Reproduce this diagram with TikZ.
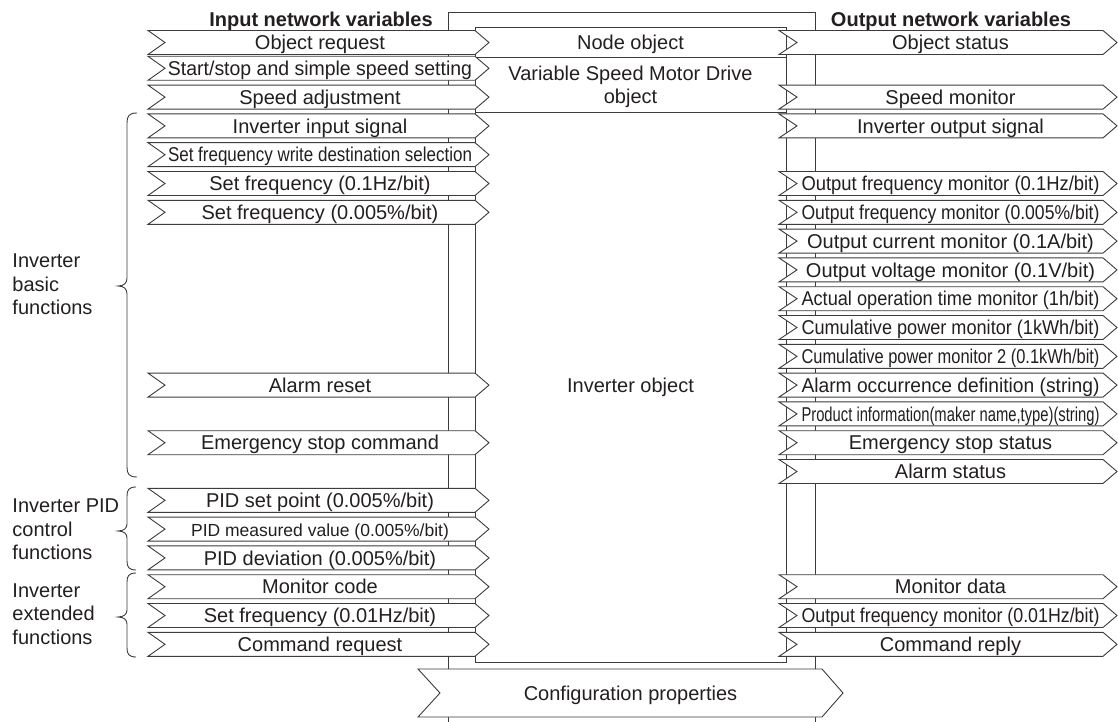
\documentclass[tikz,border=0pt]{standalone}
\usepackage{fontspec}
\setmainfont{Liberation Sans}
\usepackage{graphicx}
\definecolor{ink}{RGB}{35,31,32}
\definecolor{edge}{RGB}{60,60,60}
\newsavebox\lblbox
\newcommand\fitto[2]{\sbox\lblbox{#2}\ifdim\wd\lblbox>#1\relax\resizebox{#1}{\height}{\usebox\lblbox}\else\usebox\lblbox\fi}
\newcommand\inarr[3]{%
  \draw[arrshape] (148,#2) -- (475,#2) -- (489,#2+12) -- (475,#2+24) -- (148,#2+24) -- (165,#2+12) -- cycle;
  \node[lbl] (#1) at (320,#2+12) {\fitto{304pt}{#3}};}
\newcommand\outarr[3]{%
  \draw[arrshape] (779,#2) -- (1103,#2) -- (1117,#2+12) -- (1103,#2+24) -- (779,#2+24) -- (797,#2+12) -- cycle;
  \node[lbl] (#1) at (950.5,#2+12) {\fitto{298pt}{#3}};}
\begin{document}
\begin{tikzpicture}[x=1pt,y=-1pt,
  line width=0.9pt,
  frame/.style={draw=edge},
  arrshape/.style={draw=edge,fill=white,line join=miter},
  lbl/.style={inner sep=0pt,text height=14.3pt,text depth=0pt,text=ink,font=\fontsize{20}{24}\selectfont},
  head/.style={inner sep=0pt,text height=14.3pt,text depth=0pt,text=ink,font=\bfseries\fontsize{20}{24}\selectfont},
  grp/.style={inner sep=0pt,anchor=west,align=left,text=ink,font=\fontsize{20}{23.5}\selectfont},
  bracestyle/.style={draw=edge,line width=0.9pt}]
\useasboundingbox (0,0) rectangle (1118,722);
% outer object frame (open at bottom)
\draw[frame] (448,722) -- (448,12) -- (815,12) -- (815,722);
% inner object frame
\draw[frame] (475,27) rectangle (786,662);
\draw[frame] (475,57) -- (786,57);
\draw[frame] (475,112) -- (786,112);
% headings
\node[head] (inhead) at (321,19) {Input network variables};
\node[head] (outhead) at (951,19) {Output network variables};
% object labels
\node[lbl] (nodeobj) at (630.5,42) {Node object};
\node[lbl] (vsmd) at (630.5,73.3) {Variable Speed Motor Drive};
\node[lbl] (vsmdb) at (630.5,96) {object};
\node[lbl] (invobj) at (630.5,385) {Inverter object};
% input network variables
\inarr{i0}{30.5}{Object request}
\inarr{i1}{56.3}{Start/stop and simple speed setting}
\inarr{i2}{85.1}{Speed adjustment}
\inarr{i3}{113.9}{Inverter input signal}
\inarr{i4}{142.7}{Set frequency write destination selection}
\inarr{i5}{171.5}{Set frequency (0.1Hz/bit)}
\inarr{i6}{200.3}{Set frequency (0.005\%/bit)}
\inarr{i12}{373.1}{Alarm reset}
\inarr{i14}{430.7}{Emergency stop command}
\inarr{i16}{488.3}{PID set point (0.005\%/bit)}
\inarr{i17}{517.1}{\fontsize{17.5}{20}\selectfont PID measured value (0.005\%/bit)}
\inarr{i18}{545.9}{PID deviation (0.005\%/bit)}
\inarr{i19}{574.7}{Monitor code}
\inarr{i20}{603.5}{Set frequency (0.01Hz/bit)}
\inarr{i21}{632.3}{Command request}
% output network variables
\outarr{o0}{30.5}{Object status}
\outarr{o2}{85.1}{Speed monitor}
\outarr{o3}{113.9}{Inverter output signal}
\outarr{o5}{171.5}{Output frequency monitor (0.1Hz/bit)}
\outarr{o6}{200.3}{Output frequency monitor (0.005\%/bit)}
\outarr{o7}{229.1}{Output current monitor (0.1A/bit)}
\outarr{o8}{257.9}{Output voltage monitor (0.1V/bit)}
\outarr{o9}{286.7}{Actual operation time monitor (1h/bit)}
\outarr{o10}{315.5}{Cumulative power monitor (1kWh/bit)}
\outarr{o11}{344.3}{Cumulative power monitor 2 (0.1kWh/bit)}
\outarr{o12}{373.1}{Alarm occurrence definition (string)}
\outarr{o13}{401.9}{Product information(maker name,type)(string)}
\outarr{o14}{430.7}{Emergency stop status}
\outarr{o15}{459.5}{Alarm status}
\outarr{o19}{574.7}{Monitor data}
\outarr{o20}{603.5}{Output frequency monitor (0.01Hz/bit)}
\outarr{o21}{632.3}{Command reply}
% configuration properties
\draw[arrshape] (418,669) -- (822,669) -- (843,693) -- (822,717) -- (418,717) -- (440,693) -- cycle;
\node[lbl] (config) at (630.5,693) {Configuration properties};
% group braces
\draw[bracestyle] (137,113) .. controls (129,113) and (127,116) .. (127,123) -- (127,278)
  .. controls (127,283) and (124,286) .. (118,286) .. controls (124,286) and (127,289) .. (127,294)
  -- (127,467) .. controls (127,474) and (129,477) .. (137,477);
\draw[bracestyle] (136,487) .. controls (129,487) and (127,490) .. (127,496) -- (127,524)
  .. controls (127,528) and (124,531) .. (118,531) .. controls (124,531) and (127,534) .. (127,538)
  -- (127,561) .. controls (127,567) and (129,570) .. (136,570);
\draw[bracestyle] (136,573) .. controls (129,573) and (127,576) .. (127,582) -- (127,610)
  .. controls (127,614) and (124,617) .. (118,617) .. controls (124,617) and (127,620) .. (127,624)
  -- (127,648) .. controls (127,654) and (129,657) .. (136,657);
% group labels
\node[grp] (gbasic) at (12,284.4) {Inverter\\basic\\functions};
\node[grp] (gpid) at (12,529.5) {Inverter PID\\control\\functions};
\node[grp] (gext) at (12,614) {Inverter\\extended\\functions};
\end{tikzpicture}
\end{document}
